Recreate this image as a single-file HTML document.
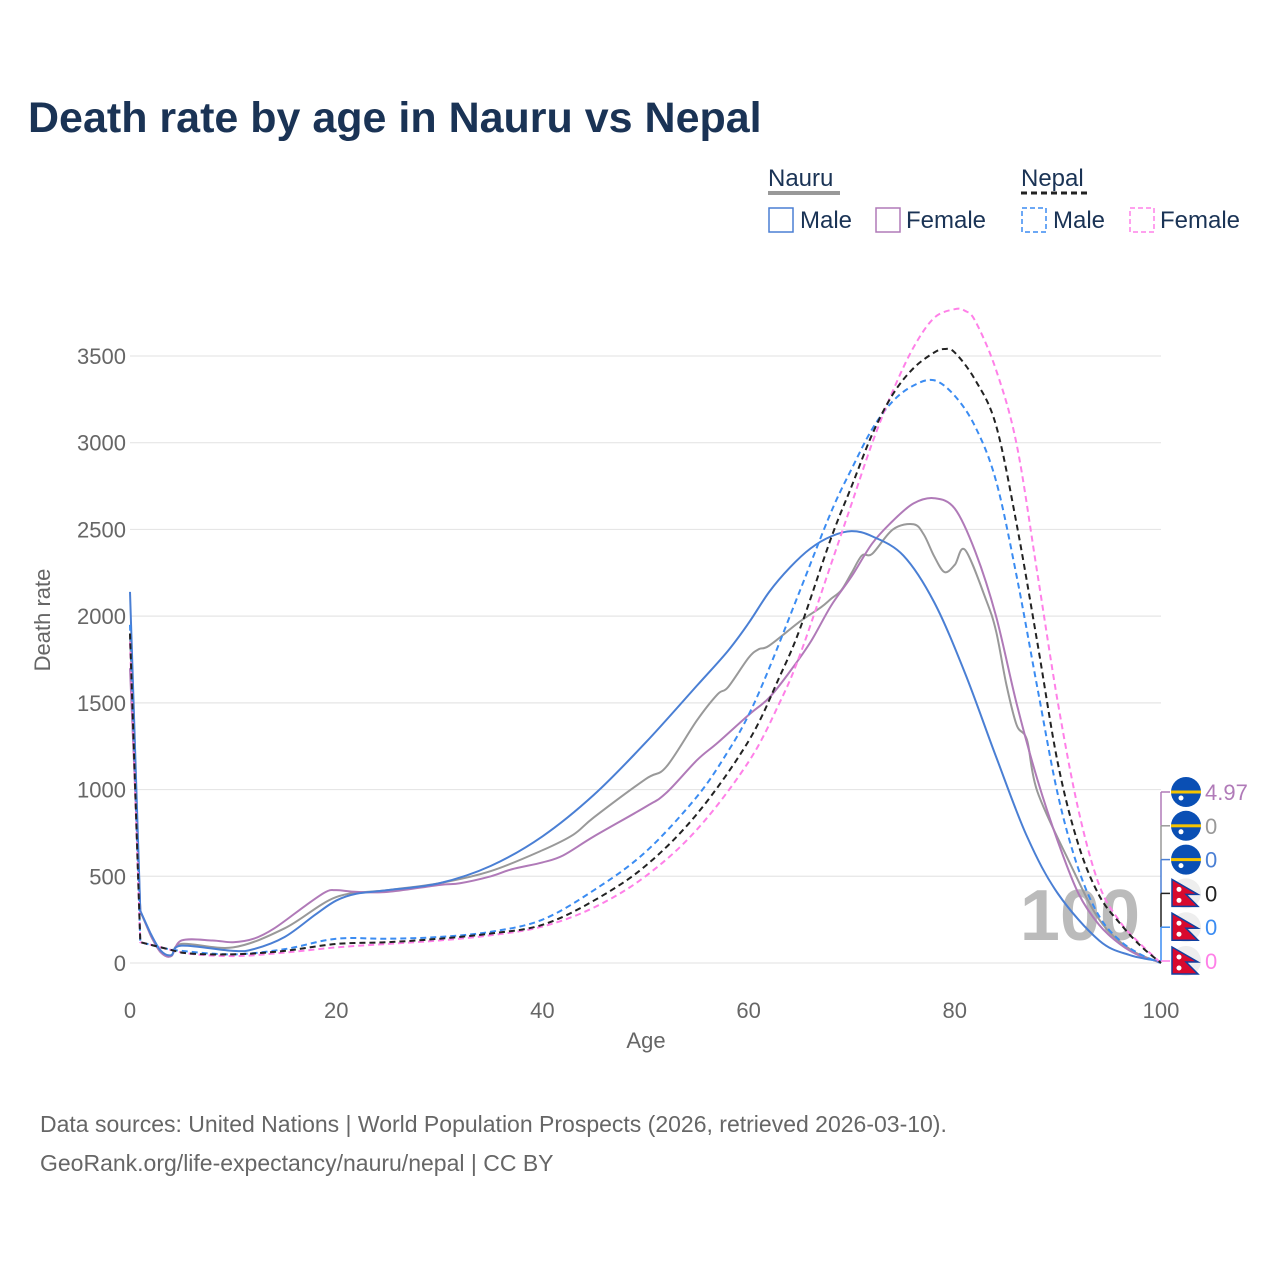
<!DOCTYPE html>
<html><head><meta charset="utf-8"><style>
body{margin:0;background:#fff;font-family:"Liberation Sans",sans-serif;}
svg{display:block}
</style></head><body>
<svg id="chart" width="1280" height="1280" xmlns="http://www.w3.org/2000/svg" font-family="Liberation Sans, sans-serif">
<text x="28" y="132" font-size="43" font-weight="bold" fill="#1a3355">Death rate by age in Nauru vs Nepal</text>
<g font-size="24" fill="#1a3355">
 <text x="768" y="186">Nauru</text>
 <line x1="768" y1="193" x2="840" y2="193" stroke="#999" stroke-width="4"/>
 <text x="1021" y="186">Nepal</text>
 <line x1="1021" y1="193" x2="1089" y2="193" stroke="#222" stroke-width="3" stroke-dasharray="6,4"/>
 <g><rect x="769" y="208" width="24" height="24" fill="none" stroke="#4a7fd4" stroke-width="1.5"/><text x="800" y="228">Male</text></g>
 <g><rect x="876" y="208" width="24" height="24" fill="none" stroke="#b07ab8" stroke-width="1.5"/><text x="906" y="228">Female</text></g>
 <g><rect x="1022" y="208" width="24" height="24" fill="none" stroke="#3b8cf2" stroke-width="1.5" stroke-dasharray="5,3"/><text x="1053" y="228">Male</text></g>
 <g><rect x="1130" y="208" width="24" height="24" fill="none" stroke="#ff80e8" stroke-width="1.5" stroke-dasharray="5,3"/><text x="1160" y="228">Female</text></g>
</g>
<g id="grid"></g>
<text x="1080" y="940" font-size="72" font-weight="bold" fill="#bbb" text-anchor="middle">100</text>
<g id="series"></g>
<g id="endlabels"></g>
<text x="646" y="1048" font-size="22" fill="#666" text-anchor="middle">Age</text>
<text transform="translate(50,620) rotate(-90)" font-size="22" fill="#666" text-anchor="middle">Death rate</text>
<text x="40" y="1132" font-size="23" fill="#666">Data sources: United Nations | World Population Prospects (2026, retrieved 2026-03-10).</text>
<text x="40" y="1171" font-size="23" fill="#666">GeoRank.org/life-expectancy/nauru/nepal | CC BY</text>
</svg>
<script>
const xTicks=[0,20,40,60,80,100];
const yTicks=[0,500,1000,1500,2000,2500,3000,3500];
const nauruMaleAges=[0,1,2,3,4,5,10,12,15,18,20,22,25,30,35,40,45,50,55,58,60,62,64,66,68,70,72,75,78,81,84,87,90,94,97,100];
const nauruMaleVals=[2140,300,170,70,45,100,70,80,150,280,360,400,420,460,560,730,970,1270,1600,1800,1960,2140,2280,2390,2460,2490,2460,2350,2080,1670,1190,730,400,130,45,10];
const nauruAllAges=[0,1,2,3,4,5,10,15,20,25,30,35,40,43,45,50,52,55,57,58,60,61,62,65,67,68,69,70,71,72,74,76,77,78,79,80,81,83,84,85,86,87,88,91,94,97,100];
const nauruAllVals=[1900,300,160,65,40,110,90,200,380,420,460,530,650,740,840,1060,1130,1400,1550,1590,1760,1810,1830,1970,2050,2100,2150,2250,2350,2360,2500,2530,2470,2345,2254,2296,2382,2099,1914,1606,1372,1286,990,596,251,79,0];
const nauruFemaleAges=[0,1,2,3,4,5,8,10,12,14,17,19,20,22,25,30,32,35,37,40,42,45,50,52,55,57,60,62,64,66,68,70,72,74,76,78,80,82,84,86,88,90,92,94,96,98,100];
const nauruFemaleVals=[1700,300,160,60,40,130,130,120,140,200,330,410,420,410,410,450,460,500,540,580,620,730,900,980,1170,1270,1430,1530,1680,1850,2060,2230,2420,2550,2650,2680,2620,2370,2000,1495,1060,700,400,220,110,40,5];
const nepalMaleAges=[0,1,3,5,10,15,20,25,30,35,40,45,50,55,58,60,62,65,68,70,72,74,76,78,80,82,84,86,88,90,92,94,96,98,100];
const nepalMaleVals=[1950,120,90,70,50,80,140,140,150,180,250,420,640,960,1220,1430,1700,2150,2600,2850,3080,3240,3330,3360,3270,3090,2780,2230,1590,970,540,270,130,50,0];
const nepalAllAges=[0,1,5,10,15,20,25,30,35,40,45,50,55,60,63,65,68,70,72,74,76,78,79,80,82,84,86,88,90,92,94,96,98,100];
const nepalAllVals=[1900,120,60,50,70,110,120,140,170,220,360,560,860,1280,1650,1930,2450,2750,3050,3280,3430,3520,3540,3520,3360,3100,2530,1850,1150,680,390,230,100,0];
const nepalFemaleAges=[0,1,5,10,15,20,25,30,35,40,45,50,55,60,63,65,68,70,72,74,76,78,80,81,82,84,86,88,90,92,94,96,98,100];
const nepalFemaleVals=[1850,120,60,40,60,90,110,130,160,210,320,500,770,1160,1500,1780,2300,2650,3000,3300,3550,3720,3770,3760,3700,3420,2990,2250,1500,880,450,240,110,0];
const endLabels=["4.97","0","0","0","0","0"];

const NS="http://www.w3.org/2000/svg";
const X=a=>130+a*10.31;
const Y=v=>963-v*0.17343;
function mk(t,attrs,parent){const e=document.createElementNS(NS,t);for(const k in attrs)e.setAttribute(k,attrs[k]);parent.appendChild(e);return e;}
const grid=document.getElementById('grid');
yTicks.forEach(v=>{
 const l=mk('line',{x1:130,x2:1161,y1:Y(v),y2:Y(v),stroke:'#e6e6e6','stroke-width':1.2},grid);
 
 
 const t=mk('text',{x:126,y:Y(v)+8,'font-size':22,fill:'#666','text-anchor':'end'},grid);
 t.textContent=v;
 
 
});
xTicks.forEach(a=>{
 const t=mk('text',{x:X(a),y:1018,'font-size':22,fill:'#666','text-anchor':'middle'},grid);
 t.textContent=a;
 
 
});
const ser=document.getElementById('series');
function path(ages,vals){
 const p=ages.map((a,i)=>[X(a),Y(vals[i])]);
 let d='M'+p[0][0]+','+p[0][1];
 for(let i=0;i<p.length-1;i++){
  const p0=p[Math.max(0,i-1)],p1=p[i],p2=p[i+1],p3=p[Math.min(p.length-1,i+2)];
  const t=(i<2)?0:1/6;
  d+=' C'+(p1[0]+(p2[0]-p0[0])*t)+','+(p1[1]+(p2[1]-p0[1])*t)+' '+(p2[0]-(p3[0]-p1[0])*t)+','+(p2[1]-(p3[1]-p1[1])*t)+' '+p2[0]+','+p2[1];
 }
 return d;
}
const defs=[
 [nauruAllAges,nauruAllVals,'#999',null,'line-nauru-all'],
 [nauruFemaleAges,nauruFemaleVals,'#b07ab8',null,'line-nauru-female'],
 [nauruMaleAges,nauruMaleVals,'#4a7fd4',null,'line-nauru-male'],
 [nepalMaleAges,nepalMaleVals,'#3b8cf2','6,4','line-nepal-male'],
 [nepalFemaleAges,nepalFemaleVals,'#ff80e8','6,4','line-nepal-female'],
 [nepalAllAges,nepalAllVals,'#222','6,4','line-nepal-all']
];
defs.forEach(d=>{
 const e=mk('path',{d:path(d[0],d[1]),fill:'none',stroke:d[2],'stroke-width':2},ser);
 if(d[3])e.setAttribute('stroke-dasharray',d[3]);
 
 
});
const el=document.getElementById('endlabels');
const cols=['#b07ab8','#999','#4a7fd4','#222','#3b8cf2','#ff80e8'];
for(let i=0;i<6;i++){
 const cy=792+i*33.8;
 if(i<5) mk('line',{x1:1161,x2:1161,y1:cy,y2:cy+33.8,stroke:cols[i],'stroke-width':1.5},el);
 mk('line',{x1:1161,x2:1170,y1:cy,y2:cy,stroke:cols[i],'stroke-width':1.5},el);
 const g=mk('g',{},el);
 
 
 if(i<3){
  mk('circle',{cx:1186,cy:cy,r:15,fill:'#0a4fb4'},g);
  mk('rect',{x:1171,y:cy-1.5,width:30,height:3,fill:'#f5c400'},g);
  mk('circle',{cx:1181,cy:cy+6,r:2.5,fill:'#fff'},g);
 }else{
  mk('circle',{cx:1186,cy:cy,r:15,fill:'#eee'},g);
  mk('path',{d:`M1172,${cy-14} L1198,${cy+1} L1186,${cy+1} L1198,${cy+13} L1172,${cy+13} Z`,fill:'#d80a2e',stroke:'#1040a0','stroke-width':1.5},g);
  mk('circle',{cx:1179,cy:cy-4,r:2.5,fill:'#fff'},g);
  mk('circle',{cx:1179,cy:cy+7,r:2.5,fill:'#fff'},g);
 }
 const t=mk('text',{x:1205,y:cy+8,'font-size':22,fill:cols[i]},el);
 t.textContent=endLabels[i];
 
 
}
</script>
</body></html>
